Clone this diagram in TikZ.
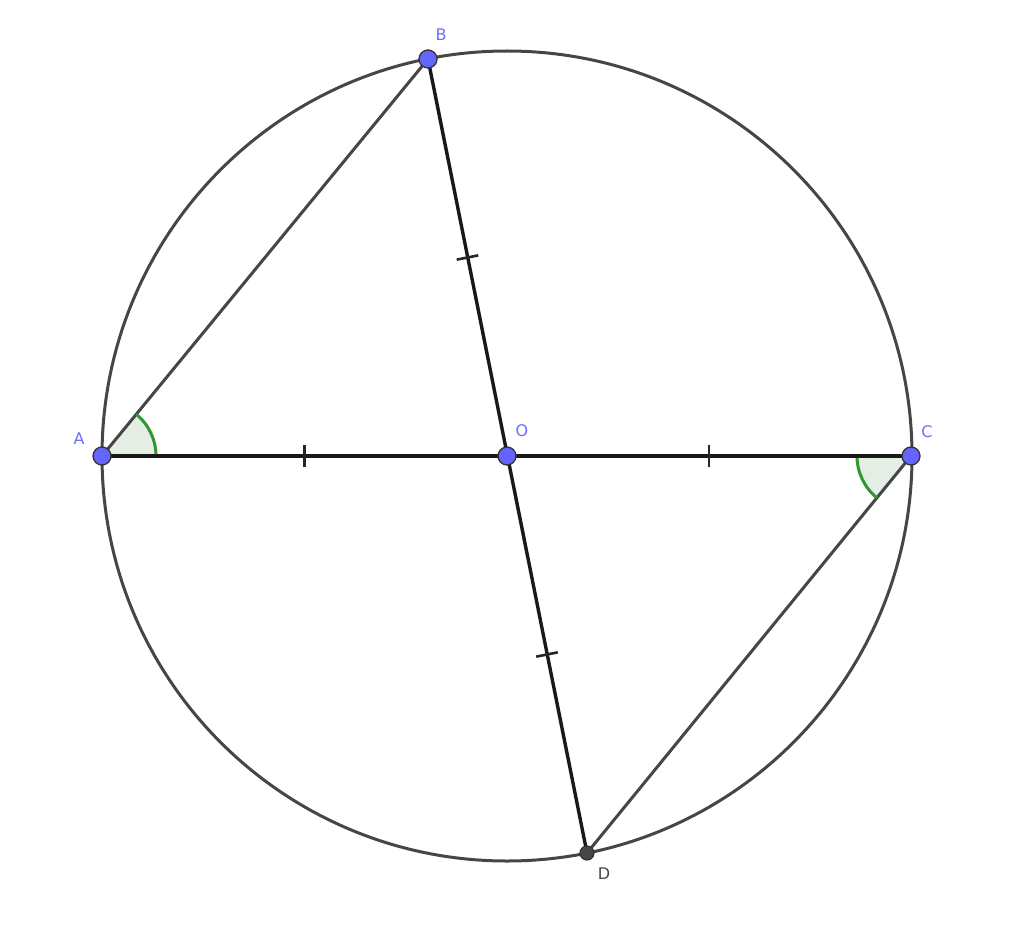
\documentclass[tikz,border=0pt]{standalone}
\usepackage{fontspec}
\setmainfont{DejaVu Sans}
\usetikzlibrary{calc}
\definecolor{ptblue}{RGB}{100,100,255}
\definecolor{lblblue}{RGB}{110,110,255}
\definecolor{circgray}{RGB}{70,70,70}
\definecolor{angfill}{RGB}{228,238,228}
\definecolor{anggreen}{RGB}{50,150,50}
\tikzset{
  x=1pt, y=-1pt,
  pt/.style={circle, draw=black!80, line width=1.3pt, fill=ptblue, minimum size=18pt, inner sep=0pt},
  ptd/.style={circle, draw=black!80, line width=1.2pt, fill=circgray, minimum size=14pt, inner sep=0pt},
  lbl/.style={text=lblblue, font=\fontsize{16}{16}\selectfont, inner sep=0pt},
  diam/.style={line width=3.4pt, black!90},
  chord/.style={line width=3pt, circgray},
  tick/.style={line width=2.6pt, black!85},
  angarc/.style={line width=3pt, anggreen},
}
\begin{document}
\begin{tikzpicture}
\useasboundingbox (0,0) rectangle (1024,928);
\fill[white] (0,0) rectangle (1024,928);
\coordinate (Oc) at (507,456);
\coordinate (Ac) at (102,456);
\coordinate (Cc) at (911,456);
\coordinate (Bc) at (428,59);
\coordinate (Dc) at (587,853);
% angle fills
\fill[angfill] (Ac) -- ($(Ac)!54pt!(Cc)$) arc[start angle=0, end angle=-50.6, radius=54] -- cycle;
\fill[angfill] (Cc) -- ($(Cc)!54pt!(Ac)$) arc[start angle=180, end angle=129.2, radius=54] -- cycle;
% circle
\draw[circgray, line width=3pt] (Oc) circle[radius=405];
% chords
\draw[chord] (Ac) -- (Bc);
\draw[chord] (Cc) -- (Dc);
% angle arcs
\draw[angarc] ($(Ac)!54pt!(Cc)$) arc[start angle=0, end angle=-50.6, radius=54];
\draw[angarc] ($(Cc)!54pt!(Ac)$) arc[start angle=180, end angle=129.2, radius=54];
% diameters
\draw[diam] (Ac) -- (Cc);
\draw[diam] (Bc) -- (Dc);
% ticks
\draw[tick] ($(Ac)!0.5!(Oc)!11pt!90:(Oc)$) -- ($(Ac)!0.5!(Oc)!11pt!-90:(Oc)$);
\draw[tick] ($(Oc)!0.5!(Cc)!11pt!90:(Cc)$) -- ($(Oc)!0.5!(Cc)!11pt!-90:(Cc)$);
\draw[tick] ($(Oc)!0.5!(Bc)!11pt!90:(Bc)$) -- ($(Oc)!0.5!(Bc)!11pt!-90:(Bc)$);
\draw[tick] ($(Oc)!0.5!(Dc)!11pt!90:(Dc)$) -- ($(Oc)!0.5!(Dc)!11pt!-90:(Dc)$);
% points
\node[pt] (A) at (Ac) {};
\node[pt] (B) at (Bc) {};
\node[pt] (C) at (Cc) {};
\node[pt] (O) at (Oc) {};
\node[ptd] (D) at (Dc) {};
% labels
\node[lbl] (lA) at (79,439) {A};
\node[lbl] (lB) at (441,35) {B};
\node[lbl] (lC) at (927,432) {C};
\node[lbl] (lO) at (522,431) {O};
\node[lbl, text=circgray] (lD) at (604,874) {D};
\end{tikzpicture}
\end{document}
